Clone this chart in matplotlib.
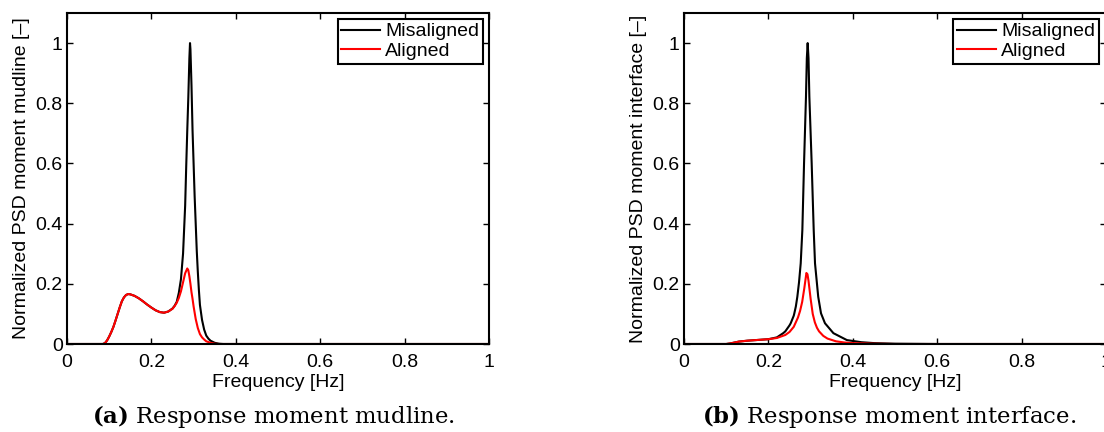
import matplotlib
matplotlib.use("Agg")
import matplotlib.pyplot as plt

# ---- data ----
freq_mud_mis = [0, 0.085, 0.09, 0.095, 0.10, 0.105, 0.11, 0.115, 0.12, 0.125, 0.13, 0.135,
                0.14, 0.145, 0.15, 0.16, 0.17, 0.18, 0.19, 0.20, 0.21, 0.22, 0.23, 0.24,
                0.25, 0.255, 0.26, 0.265, 0.27, 0.275, 0.28, 0.2825, 0.285, 0.2875, 0.29,
                0.2915, 0.2925, 0.295, 0.2975, 0.30, 0.3025, 0.305, 0.3075, 0.31, 0.3125,
                0.315, 0.3175, 0.32, 0.325, 0.33, 0.335, 0.34, 0.35, 0.36, 0.37, 1.0]
mud_mis = [0, 0, 0.003, 0.012, 0.025, 0.04, 0.057, 0.078, 0.10, 0.122, 0.142, 0.155,
           0.163, 0.166, 0.165, 0.160, 0.152, 0.142, 0.131, 0.121, 0.112, 0.106, 0.104, 0.108,
           0.118, 0.127, 0.140, 0.170, 0.215, 0.30, 0.46, 0.59, 0.71, 0.82, 0.95,
           1.0, 0.98, 0.86, 0.71, 0.60, 0.49, 0.40, 0.31, 0.24, 0.18,
           0.13, 0.105, 0.08, 0.048, 0.028, 0.018, 0.011, 0.004, 0.001, 0, 0]

freq_mud_al = [0, 0.085, 0.09, 0.095, 0.10, 0.105, 0.11, 0.115, 0.12, 0.125, 0.13, 0.135,
               0.14, 0.145, 0.15, 0.16, 0.17, 0.18, 0.19, 0.20, 0.21, 0.22, 0.23, 0.24,
               0.25, 0.255, 0.26, 0.265, 0.27, 0.275, 0.28, 0.285, 0.2875, 0.29, 0.2925,
               0.295, 0.2975, 0.30, 0.305, 0.31, 0.315, 0.32, 0.325, 0.33, 0.34, 0.35, 0.36, 1.0]
mud_al = [0, 0, 0.003, 0.012, 0.025, 0.04, 0.057, 0.078, 0.10, 0.122, 0.142, 0.155,
          0.163, 0.166, 0.165, 0.160, 0.152, 0.142, 0.131, 0.121, 0.112, 0.106, 0.104, 0.108,
          0.117, 0.126, 0.137, 0.153, 0.175, 0.205, 0.235, 0.251, 0.245, 0.225, 0.20,
          0.172, 0.15, 0.125, 0.083, 0.053, 0.033, 0.022, 0.015, 0.009, 0.004, 0.001, 0, 0]

freq_int_mis = [0, 0.10, 0.11, 0.12, 0.13, 0.15, 0.17, 0.20, 0.22, 0.235, 0.24, 0.25,
                0.2528, 0.26, 0.2614, 0.265, 0.2685, 0.2725, 0.2765, 0.2804, 0.2844, 0.289,
                0.291, 0.293, 0.295, 0.297, 0.3025, 0.3073, 0.3104, 0.318, 0.3246, 0.334,
                0.354, 0.386, 0.42, 0.45, 0.50, 0.60, 1.0]
int_mis = [0, 0, 0.002, 0.005, 0.008, 0.011, 0.013, 0.016, 0.022, 0.036, 0.042, 0.062,
           0.069, 0.094, 0.102, 0.125, 0.157, 0.205, 0.268, 0.379, 0.60, 0.822,
           0.95, 1.0, 0.95, 0.822, 0.60, 0.379, 0.268, 0.157, 0.102, 0.069,
           0.036, 0.013, 0.006, 0.003, 0.001, 0, 0]

freq_int_al = [0, 0.10, 0.11, 0.12, 0.13, 0.15, 0.17, 0.20, 0.22, 0.24, 0.25, 0.26, 0.27,
               0.275, 0.28, 0.285, 0.29, 0.2925, 0.295, 0.30, 0.305, 0.31, 0.315, 0.32,
               0.33, 0.34, 0.36, 0.38, 0.40, 0.45, 0.50, 1.0]
int_al = [0, 0, 0.002, 0.005, 0.008, 0.011, 0.013, 0.016, 0.02, 0.03, 0.04, 0.057, 0.088,
          0.11, 0.14, 0.185, 0.236, 0.232, 0.21, 0.15, 0.10, 0.072, 0.054, 0.042,
          0.027, 0.018, 0.009, 0.005, 0.003, 0.001, 0, 0]

tick_vals = [0, 0.2, 0.4, 0.6, 0.8, 1.0]
tick_labels = ["0", "0.2", "0.4", "0.6", "0.8", "1"]
ylabels = ["Normalized PSD moment mudline [\u2013]", "Normalized PSD moment interface [\u2013]"]
captions = [r"$\mathbf{(a)}$ Response moment mudline.", r"$\mathbf{(b)}$ Response moment interface."]

plt.rcParams["font.family"] = "Liberation Sans"
plt.rcParams["mathtext.fontset"] = "custom"
plt.rcParams["mathtext.rm"] = "DejaVu Serif"
plt.rcParams["mathtext.bf"] = "DejaVu Serif:bold"

fig = plt.figure(figsize=(11.04, 4.32), dpi=100)

panels = [
    (0.0607, freq_mud_mis, mud_mis, freq_mud_al, mud_al, 0.986, 0.2473),
    (0.6196, freq_int_mis, int_mis, freq_int_al, int_al, 0.983, 0.8053),
]

for i, (left, fx1, y1, fx2, y2, leg_x, cap_x) in enumerate(panels):
    ax = fig.add_axes([left, 0.2037, 0.3822, 0.7662])
    ax.plot(fx1, y1, color="black", lw=1.5, label="Misaligned")
    ax.plot(fx2, y2, color="red", lw=1.5, label="Aligned")
    ax.set_xlim(0, 1)
    ax.set_ylim(0, 1.1)
    ax.set_xticks(tick_vals)
    ax.set_xticklabels(tick_labels)
    ax.set_yticks(tick_vals)
    ax.set_yticklabels(tick_labels)
    ax.tick_params(direction="in", top=True, right=True, length=4, width=1,
                   labelsize=14, pad=3)
    ax.tick_params(axis="x", pad=7)
    for sp in ax.spines.values():
        sp.set_linewidth(1.5)
    ax.set_xlabel("Frequency [Hz]", fontsize=14)
    ax.xaxis.set_label_coords(0.5, -0.09)
    ax.xaxis.label.set_va("top")
    ax.set_ylabel(ylabels[i], fontsize=14)
    ax.yaxis.set_label_coords(-0.088, 0.5)
    leg = ax.legend(loc="upper right", bbox_to_anchor=(leg_x, 0.982), borderaxespad=0,
                    fontsize=14, fancybox=False, framealpha=1, edgecolor="black",
                    borderpad=0.2, labelspacing=0.1, handlelength=2.0, handletextpad=0.25)
    leg.get_frame().set_linewidth(1.5)
    fig.text(cap_x, 0.037, captions[i], ha="center", va="center", fontsize=16.4,
             family="DejaVu Serif")

fig.savefig("out.png", dpi=100)
